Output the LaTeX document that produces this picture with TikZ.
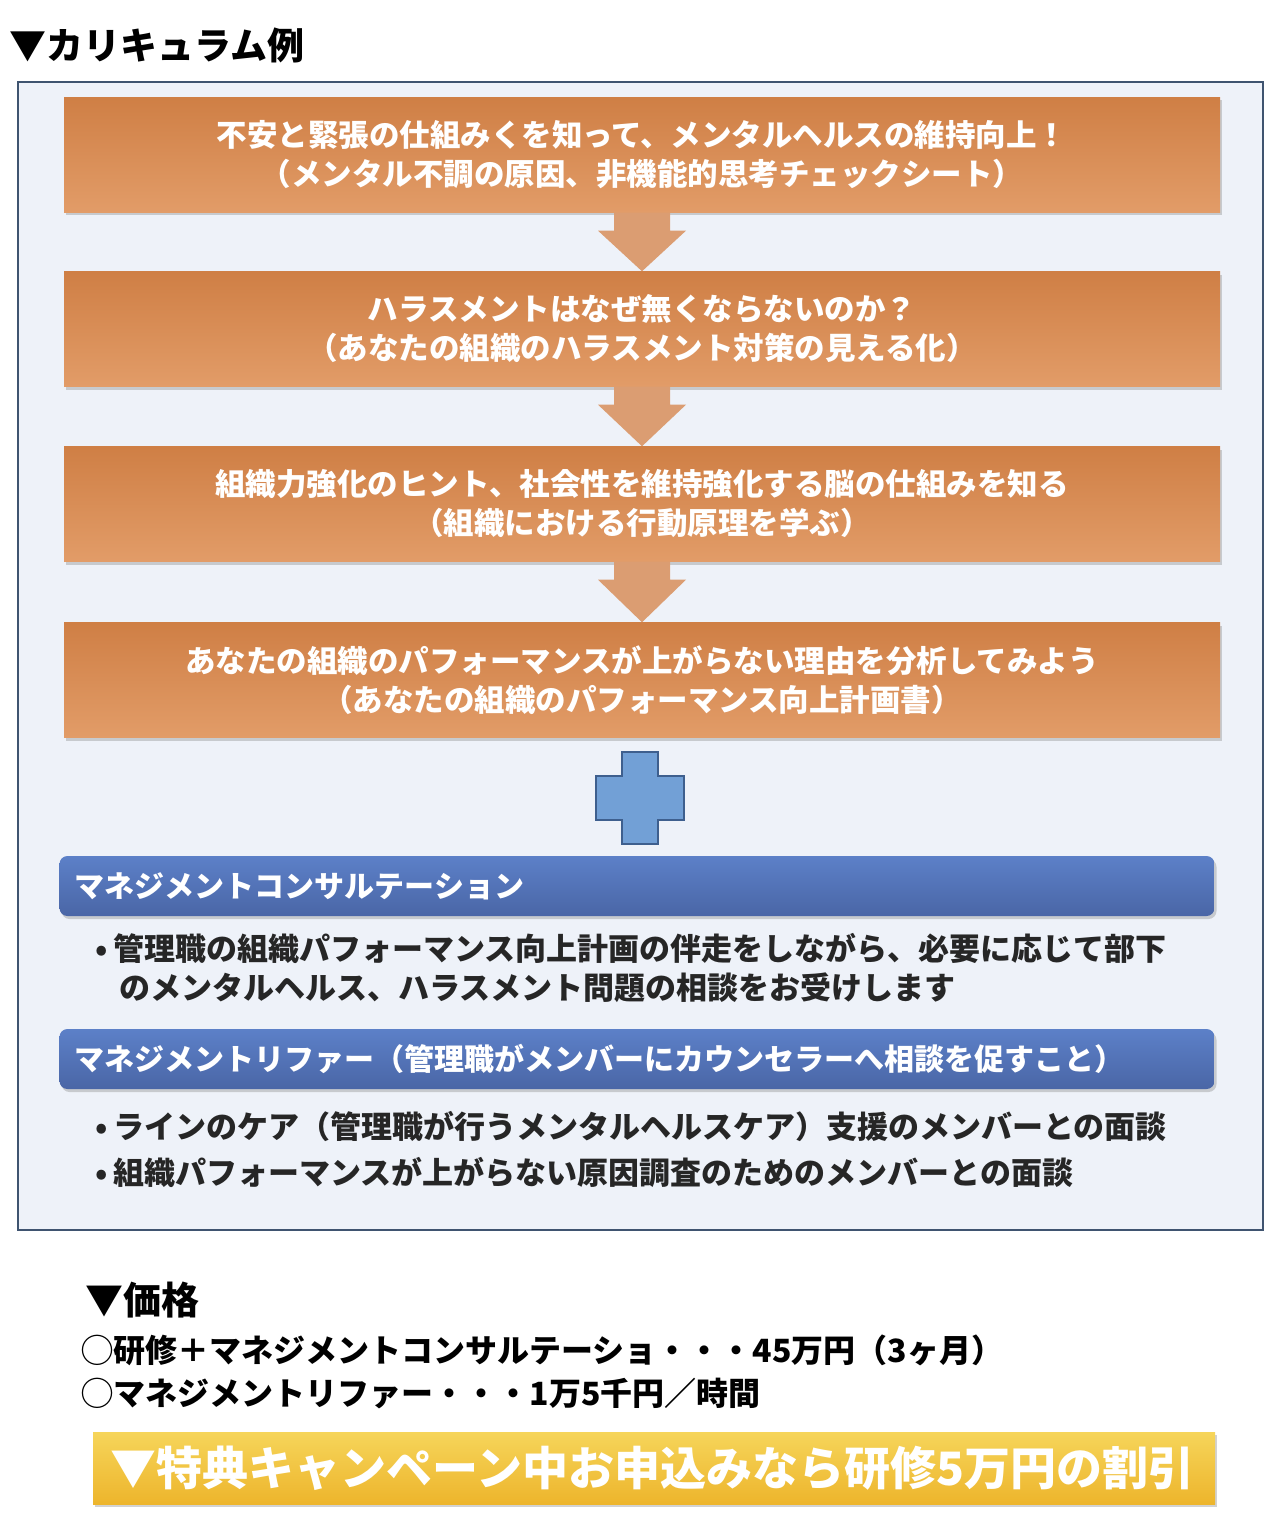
\documentclass[tikz,border=0pt]{standalone}
\usepackage{fontspec}
\setmainfont{Noto Sans CJK JP}
\usetikzlibrary{shadows,calc}
\definecolor{stepTop}{HTML}{CF7F45}
\definecolor{stepBot}{HTML}{E29C68}
\definecolor{flowArrow}{HTML}{DB9D72}
\definecolor{barTop}{HTML}{5C80C8}
\definecolor{barBot}{HTML}{4A66A6}
\definecolor{panelFill}{HTML}{EEF2F9}
\definecolor{panelLine}{HTML}{3F5470}
\definecolor{plusFill}{HTML}{72A0D6}
\definecolor{plusLine}{HTML}{3E5F8E}
\definecolor{goldTop}{HTML}{F6D55A}
\definecolor{goldBot}{HTML}{EDB52C}
\tikzset{
  stepbox/.style={minimum width=1156pt, minimum height=115pt, inner sep=0pt,
    top color=stepTop, bottom color=stepBot, text=white, align=center,
    font=\fontsize{30.5}{39}\selectfont\bfseries,
    drop shadow={shadow xshift=2pt, shadow yshift=-3pt, opacity=0.35}},
  barbox/.style={minimum width=1155pt, minimum height=60pt, inner sep=0pt,
    rounded corners=8pt, top color=barTop, bottom color=barBot, text=white,
    drop shadow={shadow xshift=2pt, shadow yshift=-3pt, opacity=0.35}},
  bartext/.style={anchor=west, text=white, font=\fontsize{30}{35}\selectfont\bfseries},
  itemtext/.style={anchor=north west, align=left, text=black!85,
    font=\fontsize{31}{39}\selectfont\bfseries},
  pricetext/.style={anchor=west, text=black, font=\fontsize{32}{38}\selectfont\bfseries},
}
\begin{document}
\begin{tikzpicture}[x=1pt,y=-1pt]
\useasboundingbox[fill=white] (0,0) rectangle (1282,1530);
% heading
\node[anchor=west, font=\fontsize{37}{40}\selectfont\bfseries] (title) at (6,45) {▼カリキュラム例};
% panel
\draw[panelLine, fill=panelFill, line width=1.5pt] (18,82) rectangle (1263,1230);
% steps
\node[stepbox] (s1) at (642,155) {不安と緊張の仕組みくを知って、メンタルヘルスの維持向上！\\（メンタル不調の原因、非機能的思考チェックシート）};
\node[stepbox] (s2) at (642,329) {ハラスメントはなぜ無くならないのか？\\（あなたの組織のハラスメント対策の見える化）};
\node[stepbox] (s3) at (642,504) {組織力強化のヒント、社会性を維持強化する脳の仕組みを知る\\（組織における行動原理を学ぶ）};
\node[stepbox] (s4) at (642,680) {あなたの組織のパフォーマンスが上がらない理由を分析してみよう\\（あなたの組織のパフォーマンス向上計画書）};
% arrows between steps
\foreach \a/\b in {s1/s2, s2/s3, s3/s4}{
  \fill[flowArrow] ($(\a.south)+(-28,0)$) -- ($(\a.south)+(28,0)$) -- ($(\a.south)+(28,18)$)
    -- ($(\a.south)+(44,18)$) -- (\b.north) -- ($(\a.south)+(-44,18)$) -- ($(\a.south)+(-28,18)$) -- cycle;
}
% plus sign
\coordinate (plus) at (640,798);
\draw[plusLine, fill=plusFill, line width=1.5pt]
  ($(plus)+(-18,-46)$) -- ($(plus)+(18,-46)$) -- ($(plus)+(18,-22)$) -- ($(plus)+(44,-22)$)
  -- ($(plus)+(44,22)$) -- ($(plus)+(18,22)$) -- ($(plus)+(18,46)$) -- ($(plus)+(-18,46)$)
  -- ($(plus)+(-18,22)$) -- ($(plus)+(-44,22)$) -- ($(plus)+(-44,-22)$) -- ($(plus)+(-18,-22)$) -- cycle;
% consultation bars
\node[barbox] (b1) at (637,886) {};
\node[bartext] at ($(b1.west)+(12,0)$) {マネジメントコンサルテーション};
\node[itemtext] (i1) at (92,930) {•\,管理職の組織パフォーマンス向上計画の伴走をしながら、必要に応じて部下\\\hspace*{24pt}のメンタルヘルス、ハラスメント問題の相談をお受けします};
\node[barbox] (b2) at (637,1059) {};
\node[bartext] at ($(b2.west)+(12,0)$) {マネジメントリファー（管理職がメンバーにカウンセラーへ相談を促すこと）};
\node[itemtext, font=\fontsize{31}{46}\selectfont\bfseries] (i2) at (92,1108) {•\,ラインのケア（管理職が行うメンタルヘルスケア）支援のメンバーとの面談\\•\,組織パフォーマンスが上がらない原因調査のためのメンバーとの面談};
% price
\node[anchor=west, font=\fontsize{38}{42}\selectfont\bfseries] (price) at (82,1300) {▼価格};
\node[pricetext] (p1) at (78,1350) {◯研修＋マネジメントコンサルテーショ・・・45万円（3ヶ月）};
\node[pricetext] (p2) at (78,1393) {◯マネジメントリファー・・・1万5千円／時間};
% campaign
\node[minimum width=1122pt, minimum height=72pt, inner sep=0pt, top color=goldTop, bottom color=goldBot,
  drop shadow={shadow xshift=2pt, shadow yshift=-3pt, opacity=0.35}] (gold) at (654,1468) {};
\node[anchor=west, text=white, font=\fontsize{46}{48}\selectfont\bfseries] at ($(gold.west)+(14,0)$) {▼特典キャンペーン中お申込みなら研修5万円の割引};
\end{tikzpicture}
\end{document}
